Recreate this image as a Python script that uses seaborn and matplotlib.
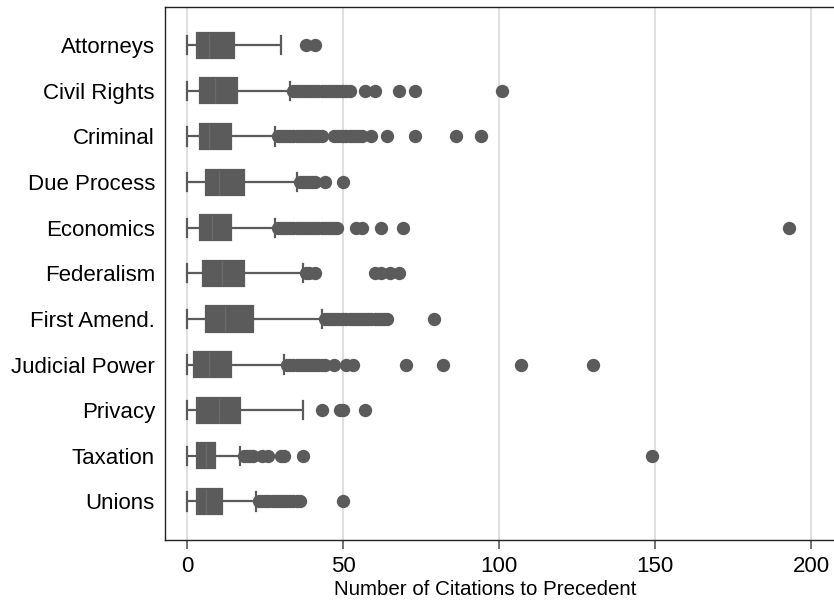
import matplotlib
matplotlib.use("Agg")
import matplotlib.pyplot as plt
import seaborn as sns
import pandas as pd

# Issue areas, top to bottom
categories = [
    "Attorneys", "Civil Rights", "Criminal", "Due Process", "Economics",
    "Federalism", "First Amend.", "Judicial Power", "Privacy", "Taxation",
    "Unions",
]

# Box summaries: lower adjacent value, quartiles, median, upper adjacent value
lower_adj = [0, 0, 0, 0, 0, 0, 0, 0, 0, 0, 0]
q1 = [3, 4, 4, 6, 4, 5, 6, 2, 3, 3, 3]
median = [7, 9, 7, 10, 8, 11, 12, 7, 10, 6, 6]
q3 = [15, 16, 14, 18, 14, 18, 21, 14, 17, 9, 11]
upper_adj = [30, 33, 28, 35, 28, 37, 43, 31, 37, 17, 22]

# Outside values for each issue area
outliers = {
    "Attorneys": [38, 41],
    "Civil Rights": list(range(34, 53)) + [57, 60, 68, 73, 101],
    "Criminal": list(range(29, 44)) + [47, 48, 49, 50, 51, 52, 53, 54, 55, 56,
                                       59, 64, 73, 86, 94],
    "Due Process": [36, 37, 38, 39, 40, 41, 44, 50],
    "Economics": list(range(29, 49)) + [54, 56, 62, 69, 193],
    "Federalism": [38, 39, 41, 60, 62, 65, 68],
    "First Amend.": list(range(44, 65)) + [79],
    "Judicial Power": list(range(32, 45)) + [47, 51, 53, 70, 82, 107, 130],
    "Privacy": [43, 49, 50, 57],
    "Taxation": [18, 19, 20, 21, 24, 26, 30, 31, 37, 149],
    "Unions": list(range(23, 37)) + [50],
}

x_ticks = [0, 50, 100, 150, 200]
x_label = "Number of Citations to Precedent"

box_color = "#5b5b5b"

# Long table of the five box values per area
box_rows = []
for i, cat in enumerate(categories):
    for v in (lower_adj[i], q1[i], median[i], q3[i], upper_adj[i]):
        box_rows.append({"area": cat, "citations": v})
box_df = pd.DataFrame(box_rows)

out_df = pd.DataFrame(
    [{"area": cat, "citations": v} for cat in categories for v in outliers[cat]]
)

plt.rcParams["font.family"] = ["Liberation Sans", "DejaVu Sans"]

fig = plt.figure(figsize=(8.34, 6.01), dpi=100)
ax = fig.add_axes([0.1978, 0.1015, 0.8196, 0.8874])

sns.boxplot(
    data=box_df, x="citations", y="area", order=categories, orient="h",
    whis=(0, 100), width=0.55, color=box_color, saturation=1,
    linecolor=box_color, linewidth=1.6, showfliers=False,
    medianprops={"color": "#6a6a6a", "linewidth": 1.0},
    capwidths=0.40, ax=ax,
)
sns.stripplot(
    data=out_df, x="citations", y="area", order=categories, orient="h",
    jitter=False, color=box_color, size=9.6, linewidth=0, ax=ax,
)

ax.set_xlim(-7.2, 212)
ax.set_ylim(10.844, -0.844)
ax.set_xticks(x_ticks)
ax.set_xticklabels([str(t) for t in x_ticks])
ax.grid(axis="x", color="#dcdcdc", linewidth=1.3)
ax.grid(axis="y", visible=False)
ax.set_axisbelow(True)

ax.tick_params(axis="x", length=6.5, width=1.2, color="#5a5a5a", pad=5,
               labelsize=16, labelcolor="black")
ax.tick_params(axis="y", length=0, pad=7.2, labelsize=16, labelcolor="black")

for side in ("left", "top", "bottom"):
    ax.spines[side].set_color("#222222")
    ax.spines[side].set_linewidth(1.0)
ax.spines["right"].set_visible(False)

ax.set_ylabel("")
ax.set_xlabel(x_label, fontsize=14.8)
ax.xaxis.label.set_va("baseline")
ax.xaxis.set_label_coords(0.468, -0.103)

fig.savefig("out.png", dpi=100)
